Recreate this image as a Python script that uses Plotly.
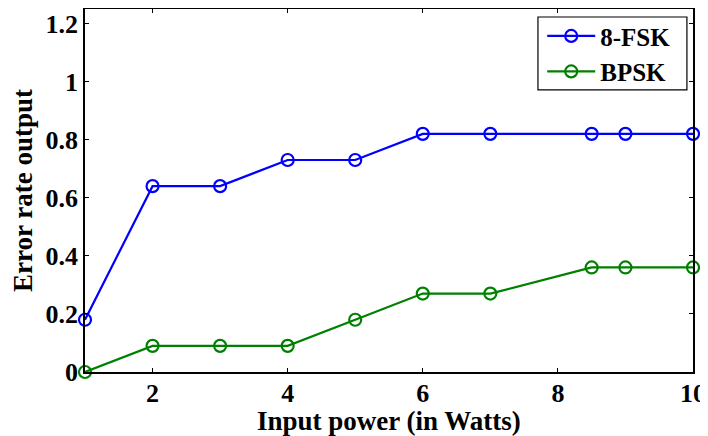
import plotly.graph_objects as go

x_vals = [1, 2, 3, 4, 5, 6, 7, 8.5, 9, 10]
fsk8 = [0.18, 0.64, 0.64, 0.73, 0.73, 0.82, 0.82, 0.82, 0.82, 0.82]
bpsk = [0.0, 0.09, 0.09, 0.09, 0.18, 0.27, 0.27, 0.36, 0.36, 0.36]
x_ticks = [2, 4, 6, 8, 10]
y_ticks = [0, 0.2, 0.4, 0.6, 0.8, 1, 1.2]
y_tick_text = ["0", "0.2", "0.4", "0.6", "0.8", "1", "1.2"]
x_title = "Input power (in Watts)"
y_title = "Error rate output"

font_family = "Liberation Serif"

fig = go.Figure()
fig.add_trace(go.Scatter(x=x_vals, y=fsk8, mode="lines+markers", name="<b>8-FSK</b>",
                         line=dict(color="#0000ff", width=2.2),
                         marker=dict(symbol="circle-open", size=12, color="#0000ff",
                                     line=dict(width=2.2, color="#0000ff")),
                         cliponaxis=False))
fig.add_trace(go.Scatter(x=x_vals, y=bpsk, mode="lines+markers", name="<b>BPSK</b>",
                         line=dict(color="#008000", width=2.2),
                         marker=dict(symbol="circle-open", size=12, color="#008000",
                                     line=dict(width=2.2, color="#008000")),
                         cliponaxis=False))

axis_common = dict(showline=True, linecolor="black", linewidth=1.5, mirror="ticks",
                   ticks="inside", ticklen=4, tickcolor="black", tickwidth=1,
                   showgrid=False, zeroline=False,
                   tickfont=dict(family=font_family, size=26, color="black", weight="bold"))

fig.update_xaxes(range=[1, 10], tickvals=x_ticks, ticktext=[str(t) for t in x_ticks],
                 ticklabelstandoff=-3,
                 automargin=False, **axis_common)
fig.update_yaxes(range=[0, 1.25], tickvals=y_ticks, ticktext=y_tick_text,
                 title=dict(text="<b>" + y_title + "</b>", standoff=10,
                            font=dict(family=font_family, size=27, color="black")),
                 automargin=False, **axis_common)

# x-axis title placed below the tick labels
fig.add_annotation(text="<b>" + x_title + "</b>", xref="paper", yref="paper",
                   x=0.5, y=-0.135, xanchor="center", yanchor="middle",
                   showarrow=False,
                   font=dict(family=font_family, size=27, color="black"))

# legend frame
fig.add_shape(type="rect", xref="paper", yref="paper",
              x0=0.745, x1=0.990, y0=0.777, y1=0.978,
              line=dict(color="black", width=1.2), fillcolor="white", layer="above")

fig.update_layout(
    width=700, height=428,
    margin=dict(l=77, r=15, t=1, b=64),
    plot_bgcolor="white", paper_bgcolor="white",
    font=dict(family=font_family, color="black"),
    legend=dict(x=0.752, y=0.877, xanchor="left", yanchor="middle",
                bgcolor="rgba(0,0,0,0)", borderwidth=0,
                font=dict(family=font_family, size=25, color="black"),
                itemwidth=48, tracegroupgap=0),
    showlegend=True,
)

fig.write_html("out.html")
